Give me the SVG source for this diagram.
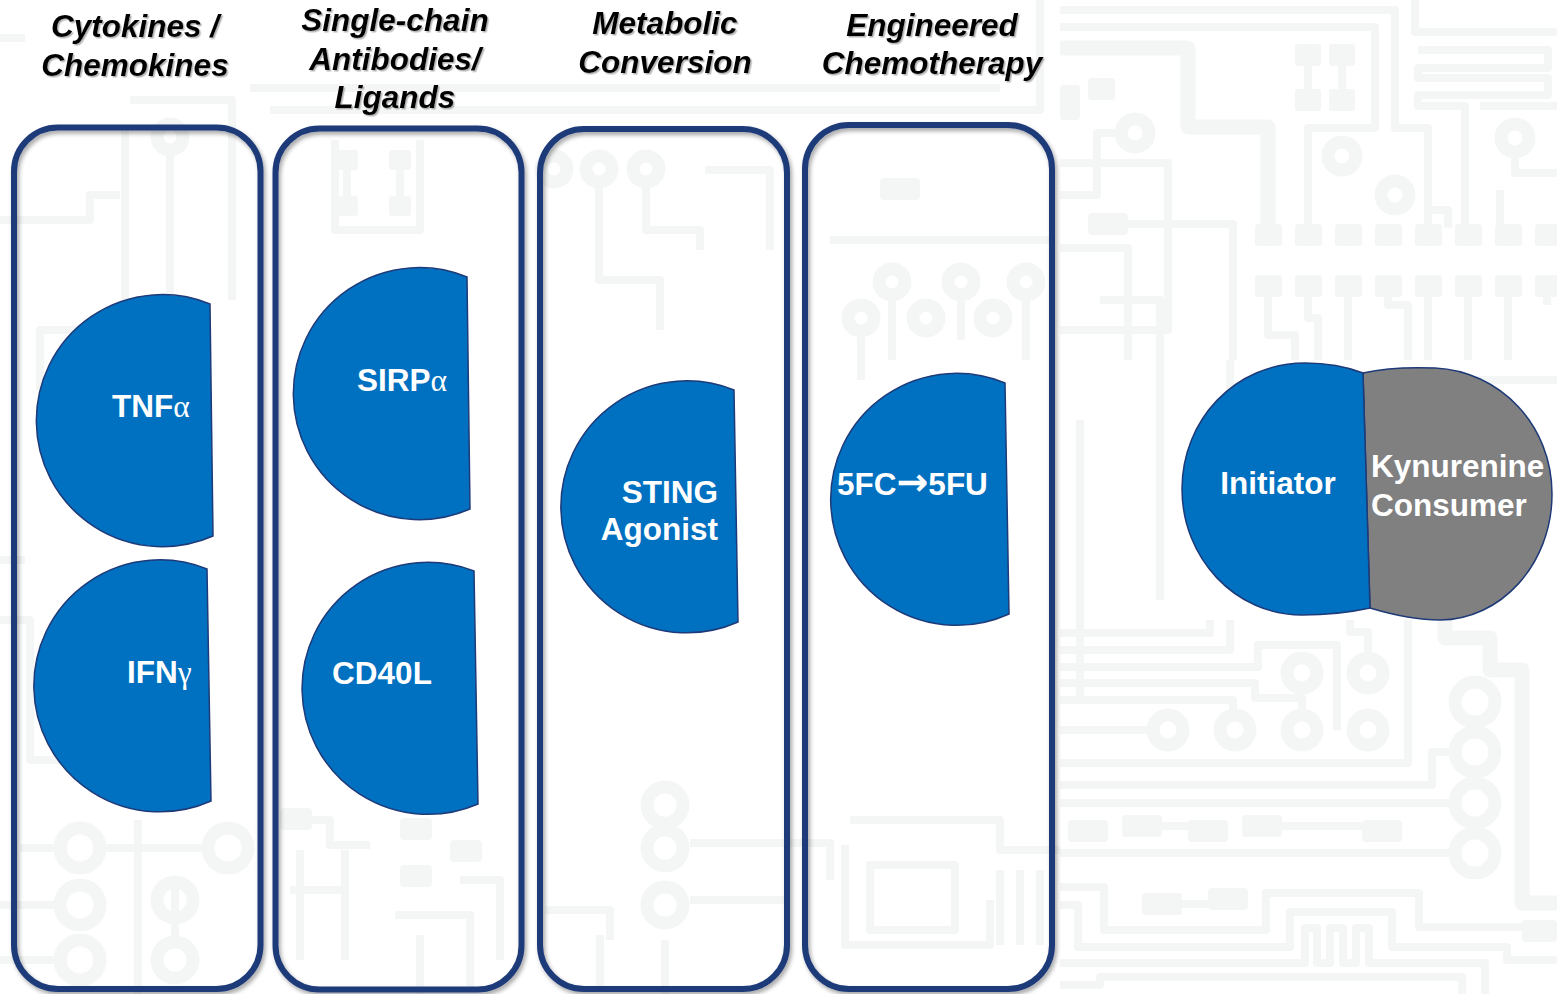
<svg xmlns="http://www.w3.org/2000/svg" width="1557" height="994" viewBox="0 0 1557 994">
<defs>
<style>
.pcb{fill:none;stroke:#F4F6F6;stroke-width:8;stroke-linejoin:round}
.pcbt{fill:none;stroke:#F4F6F6;stroke-width:15;stroke-linejoin:round}
.pad{fill:#F4F6F6}
.ring{fill:none;stroke:#F4F6F6;stroke-width:13}
.box{fill:none;stroke:#1F3A78;stroke-width:6}
.blob{fill:#0070C0;stroke:#1F3A78;stroke-width:1.5}
.gray{fill:#808080;stroke:#1F3A78;stroke-width:1.5}
.hdr{font-family:"Liberation Sans",Arial,sans-serif;font-weight:bold;font-style:italic;font-size:31.5px;fill:#000;text-anchor:middle}
.lbl{font-family:"Liberation Sans",Arial,sans-serif;font-weight:bold;font-size:31.5px;fill:#fff}
.greek{font-family:"Liberation Serif","DejaVu Serif",serif;font-weight:normal}
.arrow{font-family:"DejaVu Sans",sans-serif;font-weight:bold;font-size:38px}
</style>
<filter id="bshadow" x="-10%" y="-5%" width="120%" height="110%">
<feDropShadow dx="2" dy="3" stdDeviation="2" flood-color="#000" flood-opacity="0.35"/>
</filter>
<filter id="tshadow" x="-5%" y="-10%" width="110%" height="130%">
<feDropShadow dx="1.5" dy="1.5" stdDeviation="0.7" flood-color="#777" flood-opacity="0.55"/>
</filter>
</defs>
<rect width="1557" height="994" fill="#FFFFFF"/>

<g id="background-circuit">
<path class="pcb" d="M1060,10 H1395 V128 H1428 V228"/>
<path class="pcb" d="M1060,27 H1375 V128 H1308 V228"/>
<path class="pcbt" d="M1060,48 H1188 V127 H1268 V228"/>
<path class="pcb" d="M1060,195 H1097 V133 H1120"/>
<circle class="ring" cx="1135" cy="133" r="14"/>
<rect class="pad" x="1088" y="78" width="27" height="22" rx="3"/>
<rect class="pad" x="1060" y="85" width="20" height="35" rx="3"/>
<path class="pcb" d="M1060,163 H1168 V330 H1060"/>
<path class="pcb" d="M1128,224 H1233 V360"/>
<path class="pcb" d="M1060,248 H1128 V360"/>
<rect class="pad" x="1088" y="213" width="40" height="22" rx="4"/>
<path class="pcb" d="M1308,55 V100 M1342,55 V100"/>
<rect class="pad" x="1295" y="44" width="26" height="22" rx="3"/>
<rect class="pad" x="1329" y="44" width="26" height="22" rx="3"/>
<rect class="pad" x="1295" y="89" width="26" height="22" rx="3"/>
<rect class="pad" x="1329" y="89" width="26" height="22" rx="3"/>
<circle class="ring" cx="1342" cy="156" r="14"/>
<circle class="ring" cx="1395" cy="195" r="14"/>
<circle class="ring" cx="1515" cy="138" r="14"/>
<path class="pcb" d="M1515,152 V173 H1557"/>
<path class="pcb" d="M1415,0 V32 H1557"/>
<path class="pcb" d="M1418,50 H1548 V68 H1418 V78 H1548 V95 H1418 V106 H1465 V228"/>
<path class="pcb" d="M1480,106 H1557"/>
<path class="pcb" d="M1425,210 H1448 V228 M1500,190 V228"/>
<g class="pad">
<rect x="1255" y="224" width="27" height="22" rx="3"/><rect x="1295" y="224" width="27" height="22" rx="3"/>
<rect x="1335" y="224" width="27" height="22" rx="3"/><rect x="1375" y="224" width="27" height="22" rx="3"/>
<rect x="1415" y="224" width="27" height="22" rx="3"/><rect x="1455" y="224" width="27" height="22" rx="3"/>
<rect x="1495" y="224" width="27" height="22" rx="3"/><rect x="1535" y="224" width="27" height="22" rx="3"/>
<rect x="1255" y="275" width="27" height="22" rx="3"/><rect x="1295" y="275" width="27" height="22" rx="3"/>
<rect x="1335" y="275" width="27" height="22" rx="3"/><rect x="1375" y="275" width="27" height="22" rx="3"/>
<rect x="1415" y="275" width="27" height="22" rx="3"/><rect x="1455" y="275" width="27" height="22" rx="3"/>
<rect x="1495" y="275" width="27" height="22" rx="3"/><rect x="1535" y="275" width="27" height="22" rx="3"/>
</g>
<path class="pcb" d="M1268,285 V335 H1295 V360 M1308,285 V318 H1318 V360 M1348,285 V360 M1388,285 V305 H1408 V360 M1428,285 V360 M1468,285 V360 M1508,285 V360 M1547,285 V305"/>
<path class="pcb" d="M1230,360 V470 M1260,380 H1557"/>
<path class="pcb" d="M1060,633 H1210 V620"/>
<path class="pcb" d="M1060,650 H1230 V620"/>
<path class="pcb" d="M1060,667 H1258 V645 H1337 V730"/>
<path class="pcb" d="M1060,683 H1255 V698 H1302 V712"/>
<path class="pcb" d="M1060,700 H1233 V712"/>
<path class="pcb" d="M1060,730 H1150"/>
<path class="pcb" d="M1060,763 H1408 V620"/>
<path class="pcb" d="M1060,785 H1432 V752 H1450"/>
<path class="pcb" d="M1060,803 H1450"/>
<path class="pcb" d="M1060,853 H1450"/>
<path class="pcb" d="M1350,620 V632 H1368 V652"/>
<path class="pcbt" d="M1445,620 V638 H1490 V670 H1522 V903 H1557"/>
<circle class="ring" cx="1302" cy="673" r="15"/>
<circle class="ring" cx="1368" cy="673" r="15"/>
<circle class="ring" cx="1168" cy="730" r="15"/>
<circle class="ring" cx="1235" cy="730" r="15"/>
<circle class="ring" cx="1302" cy="730" r="15"/>
<circle class="ring" cx="1368" cy="730" r="15"/>
<circle class="ring" cx="1475" cy="702" r="20"/>
<circle class="ring" cx="1475" cy="752" r="20"/>
<circle class="ring" cx="1475" cy="803" r="20"/>
<circle class="ring" cx="1475" cy="853" r="20"/>
<g class="pad">
<rect x="1068" y="820" width="40" height="22" rx="4"/><rect x="1122" y="815" width="40" height="22" rx="4"/>
<rect x="1188" y="820" width="40" height="22" rx="4"/><rect x="1242" y="815" width="40" height="22" rx="4"/>
<rect x="1362" y="820" width="40" height="22" rx="4"/><rect x="1142" y="893" width="40" height="22" rx="4"/>
<rect x="1208" y="888" width="40" height="22" rx="4"/><rect x="1522" y="920" width="35" height="22" rx="4"/>
</g>
<path class="pcb" d="M1162,826 H1188 M1282,826 H1362 M1182,904 H1208"/>
<path class="pcb" d="M1060,887 H1104 V930 H1266 V893 H1419 V927 H1522"/>
<path class="pcb" d="M1060,905 H1078 V947 H1290 V912 H1392 V947 H1507 V960 H1557"/>
<path class="pcb" d="M1060,963 H1305 V928 H1317 V963 H1330 V928 H1343 V963 H1356 V928 H1369 V963 H1485 V994"/>
<path class="pcb" d="M1060,985 H1100 V977 H1462 V994"/>
<path class="pcb" d="M0,38 H25 M130,100 H232 V300 M170,150 V330 M125,130 V330 H40 V390"/>
<circle class="ring" cx="170" cy="137" r="13"/>
<path class="pcb" d="M0,220 H90 V195 H120 M0,560 H25 M0,620 H30 V760 H120"/>
<path class="pcb" d="M347,160 V205 M400,160 V205 M335,140 V230 H420 V140"/>
<g class="pad">
<rect x="336" y="150" width="22" height="20" rx="3"/><rect x="389" y="150" width="22" height="20" rx="3"/>
<rect x="336" y="196" width="22" height="20" rx="3"/><rect x="389" y="196" width="22" height="20" rx="3"/>
</g>
<path class="pcb" d="M250,88 H1000 M270,110 H1040 V0"/>
<path class="pcb" d="M599,183 V280 H660 V330 M646,183 V230 H700 V250 M705,170 H770 V250"/>
<circle class="ring" cx="554" cy="169" r="13"/>
<circle class="ring" cx="599" cy="169" r="13"/>
<circle class="ring" cx="646" cy="169" r="13"/>
<path class="pcb" d="M830,240 H1050 M892,296 V360 M961,296 V340 M1026,296 V360 M861,332 V380"/>
<circle class="ring" cx="892" cy="282" r="13"/>
<circle class="ring" cx="961" cy="282" r="13"/>
<circle class="ring" cx="1026" cy="282" r="13"/>
<circle class="ring" cx="861" cy="318" r="13"/>
<circle class="ring" cx="926" cy="318" r="13"/>
<circle class="ring" cx="993" cy="318" r="13"/>
<rect class="pad" x="880" y="178" width="40" height="22" rx="4"/>
<path class="pcb" d="M20,848 H55 M105,848 H205 M0,905 H55 M0,960 H55 M138,820 V994 M175,876 V936"/>
<circle class="ring" cx="80" cy="848" r="20"/>
<circle class="ring" cx="80" cy="905" r="20"/>
<circle class="ring" cx="80" cy="960" r="20"/>
<circle class="ring" cx="228" cy="848" r="20"/>
<circle class="ring" cx="175" cy="900" r="18"/>
<circle class="ring" cx="175" cy="960" r="18"/>
<path class="pcb" d="M290,820 H330 V845 H370 M300,850 V960 M345,850 V960 M395,915 H470 V990 M420,935 V994 M460,880 H500 V960 M290,890 H345"/>
<g class="pad">
<rect x="280" y="808" width="32" height="22" rx="4"/><rect x="400" y="818" width="32" height="22" rx="4"/>
<rect x="450" y="840" width="32" height="22" rx="4"/><rect x="400" y="865" width="32" height="22" rx="4"/>
</g>
<path class="pcb" d="M545,910 H610 V940 M600,935 V990 M690,843 H830 V880 M690,900 H790 M665,940 V994"/>
<circle class="ring" cx="665" cy="805" r="18"/>
<circle class="ring" cx="665" cy="848" r="18"/>
<circle class="ring" cx="665" cy="905" r="18"/>
<path class="pcb" d="M850,820 H1000 V850 H1060 M845,845 V945 H990 V900 M870,865 H955 V930 H870 Z M1000,870 V945 M1020,870 V945 M1040,870 V945"/>
<path class="pcb" d="M1080,420 V700 M1100,300 H1160 V600"/>
</g>

<g id="connectors"></g>

<g id="box-cytokines" filter="url(#bshadow)">
<rect class="box" x="14" y="127.5" width="246.5" height="861.5" rx="44"/>
</g>
<g id="box-single-chain" filter="url(#bshadow)">
<rect class="box" x="275.5" y="128.5" width="246" height="861" rx="44"/>
</g>
<g id="box-metabolic" filter="url(#bshadow)">
<rect class="box" x="540" y="129" width="247" height="860" rx="44"/>
</g>
<g id="box-chemotherapy" filter="url(#bshadow)">
<rect class="box" x="805" y="125" width="247" height="864" rx="44"/>
</g>

<g id="header-cytokines" filter="url(#tshadow)">
<text class="hdr" x="135" y="37">Cytokines /</text>
<text class="hdr" x="135" y="76">Chemokines</text>
</g>
<g id="header-single-chain" filter="url(#tshadow)">
<text class="hdr" x="395" y="31">Single-chain</text>
<text class="hdr" x="395" y="69.5">Antibodies/</text>
<text class="hdr" x="395" y="108">Ligands</text>
</g>
<g id="header-metabolic" filter="url(#tshadow)">
<text class="hdr" x="665" y="34">Metabolic</text>
<text class="hdr" x="665" y="73">Conversion</text>
</g>
<g id="header-chemotherapy" filter="url(#tshadow)">
<text class="hdr" x="932" y="36">Engineered</text>
<text class="hdr" x="932" y="74">Chemotherapy</text>
</g>

<g id="node-tnfa">
<path class="blob" d="M210,304 A126,126 0 1 0 213,536 Z"/>
<text class="lbl" x="112" y="417">TNF<tspan class="greek">α</tspan></text>
</g>
<g id="node-ifng">
<path class="blob" d="M207,569 A126,126 0 1 0 211,801 Z"/>
<text class="lbl" x="127" y="683">IFN<tspan class="greek">γ</tspan></text>
</g>
<g id="node-sirpa">
<path class="blob" d="M467,277 A126,126 0 1 0 470,509 Z"/>
<text class="lbl" x="357" y="391">SIRP<tspan class="greek">α</tspan></text>
</g>
<g id="node-cd40l">
<path class="blob" d="M474,571 A126,126 0 1 0 478,804 Z"/>
<text class="lbl" x="382" y="684" text-anchor="middle">CD40L</text>
</g>
<g id="node-sting">
<path class="blob" d="M734,390 A126,126 0 1 0 738,622 Z"/>
<text class="lbl" x="718" y="503" text-anchor="end">STING</text>
<text class="lbl" x="718" y="540" text-anchor="end">Agonist</text>
</g>
<g id="node-5fc">
<path class="blob" d="M1005,383 A126,126 0 1 0 1009,614 Z"/>
<text class="lbl" x="837" y="495">5FC<tspan class="arrow">→</tspan>5FU</text>
</g>
<g id="node-kynurenine">
<path class="gray" d="M1363,373 C1385,368 1410,367 1435,368 C1500,371 1552,425 1552,494 C1552,565 1500,620 1440,620 C1415,620 1390,614 1370,608 Z"/>
<text class="lbl" x="1371" y="477">Kynurenine</text>
<text class="lbl" x="1371" y="516">Consumer</text>
</g>
<g id="node-initiator">
<path class="blob" d="M1363,373 C1345,366 1325,363 1305,363 C1235,363 1182,420 1182,489 C1182,558 1235,615 1302,615 C1330,615 1352,612 1370,608 Z"/>
<text class="lbl" x="1278" y="494" text-anchor="middle">Initiator</text>
</g>
</svg>
